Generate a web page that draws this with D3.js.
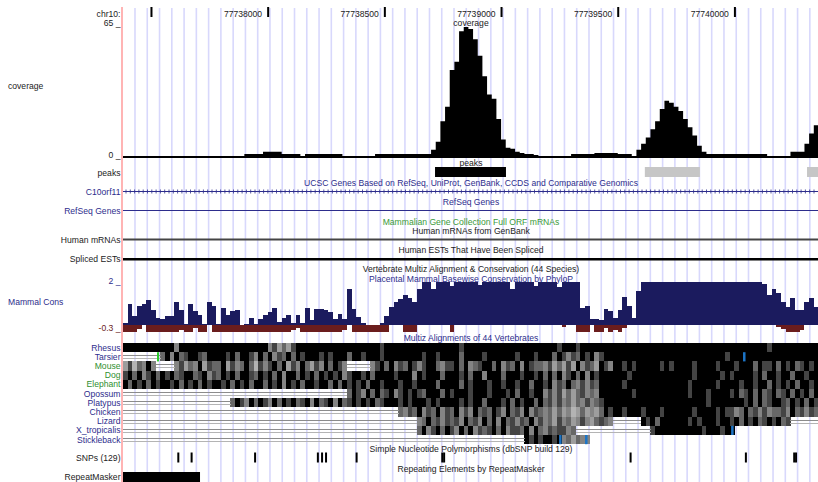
<!DOCTYPE html>
<html>
<head>
<meta charset="utf-8">
<script src="https://cdn.jsdelivr.net/npm/d3@7"></script>
<style>
  html, body { margin: 0; padding: 0; background: #fff; }
  svg { display: block; }
  text { font-family: 'Liberation Sans', Arial, Helvetica, sans-serif; font-size: 8.6px; }
</style>
</head>
<body>
<div id="chart"></div>
<script>
/* ---- data ---- */
const chrom = 'chr10:';
const viewStart = 77737378;
const viewEnd = 77740356;
const binSize = 20;

const rulerTicks = [77737500, 77738000, 77738500, 77739000, 77739500, 77740000];
const rulerLabels = ['', '77738000', '77738500', '77739000', '77739500', '77740000'];

// read coverage, one value per 20 bp bin
const coverage = [
  1, 1, 1, 1, 1, 1, 1, 1, 1, 1,
  1, 1, 1, 1, 1, 1, 1, 1, 1, 1,
  1, 1, 1, 1, 1, 1, 2, 2, 2, 2,
  3, 3, 3, 3, 2, 2, 2, 2, 1, 2,
  2, 2, 2, 2, 2, 2, 2, 1, 1, 1,
  1, 1, 1, 1, 2, 2, 2, 2, 2, 2,
  2, 2, 2, 2, 2, 2, 4, 8, 18, 25,
  43, 47, 62, 64, 63, 58, 50, 40, 31, 29,
  19, 9, 5, 4.5, 3, 2.5, 2, 2, 1.5, 1,
  1, 1, 1, 1, 1, 1, 2, 2, 2, 2,
  2, 2.5, 2.5, 2.5, 2.5, 2.5, 2, 2, 2, 1,
  4, 7, 10, 14, 18, 24, 28, 27, 25, 23,
  19, 15, 11, 6, 3, 2, 2, 2, 2, 2,
  2, 2, 2, 2, 2, 2, 2, 2, 1, 1,
  1, 1, 1, 3, 3, 3, 7, 12, 16
];
const coverageMax = 65;

const peakStarts = [77738715, 77739614, 77740309];
const peakEnds = [77739019, 77739850, 77740400];
const peakScores = [1000, 250, 250];

// PhyloP, highest and lowest score in each 20 bp bin
const consHi = [
  0.1, 1.0, 0.45, 0.9, 1.0, 1.15, 0.7, 0.35, 0.3, 0.45,
  0.45, 1.1, 0.7, 0.05, 1.0, 0.65, 0.5, 0.05, 1.1, 0.9,
  0.05, 0.8, 0.5, 0.65, 0.7, 0, 0.05, 0.35, 0.08, 0.3,
  0.5, 0.6, 0.8, 0.15, 0.35, 0.5, 0.1, 0.5, 0.1, 0.8,
  0.25, 0.75, 0.75, 0.7, 0.6, 0.3, 0.55, 0.3, 1.7, 0.75,
  0.4, 0.1, 0, 0, 0, 0.1, 0.45, 0.85, 1.1, 1.2,
  1.4, 1.25, 1.1, 1.7, 2, 2, 1.7, 2, 2, 2,
  1.8, 2, 2, 2, 2, 2, 1.85, 2, 2, 2,
  2, 2, 2, 1.7, 2, 2, 2, 2, 1.8, 2,
  2, 2, 2, 1.75, 2, 2, 2, 2, 0.8, 0.9,
  0.3, 0.3, 0.25, 0.75, 0.65, 0.35, 0.7, 1.3, 0.9, 0.35,
  1.6, 2, 2, 2, 2, 2, 2, 2, 2, 2,
  2, 2, 2, 2, 2, 2, 2, 2, 2, 2,
  2, 2, 2, 2, 2, 2, 2, 1.9, 1.4, 1.7,
  1.5, 1.1, 0.85, 1.25, 0.7, 0.7, 1.1, 1.25, 0.85
];
const consLo = [
  -0.3, -0.3, -0.3, -0.15, 0, -0.3, -0.3, -0.3, -0.3, -0.3,
  -0.3, -0.3, -0.2, -0.3, -0.3, -0.1, -0.3, -0.3, 0, -0.3,
  -0.3, -0.3, -0.3, -0.3, -0.3, -0.3, -0.3, -0.3, -0.3, -0.3,
  -0.3, -0.3, -0.3, -0.3, -0.3, -0.3, -0.2, -0.1, -0.3, -0.3,
  -0.3, -0.3, -0.3, -0.3, -0.3, -0.3, -0.3, -0.2, 0, -0.3,
  -0.3, -0.3, -0.3, -0.3, -0.3, -0.3, -0.3, 0, 0, 0,
  -0.3, -0.3, -0.3, 0, 0, 0, 0, 0, 0, 0,
  -0.3, 0, 0, 0, 0, 0, 0, 0, 0, 0,
  0, 0, 0, 0, 0, 0, 0, 0, 0, 0,
  0, 0, 0, 0, -0.05, 0, 0, -0.3, -0.3, -0.3,
  0, -0.3, -0.3, -0.1, -0.3, -0.2, -0.3, -0.1, 0, 0,
  0, 0, 0, 0, 0, 0, 0, 0, 0, 0,
  0, 0, 0, 0, 0, 0, 0, 0, 0, 0,
  0, 0, 0, 0, 0, 0, 0, 0, 0, 0,
  -0.05, -0.15, -0.3, -0.3, -0.3, -0.2, 0, 0, 0
];

// multiz rows: one char per 20 bp bin, '-' unaligned, '.' nothing, 0-9 shade
const species = ['Rhesus', 'Tarsier', 'Mouse', 'Dog', 'Elephant', 'Opossum', 'Platypus', 'Chicken', 'Lizard', 'X_tropicalis', 'Stickleback'];
const speciesGroup = [0, 0, 1, 1, 1, 0, 0, 0, 0, 0, 0];
const alignRhesus = ['9999999999', '9699999999', '9999999999', '9685758999', '9999999999', '9999989999', '9999999999', '9989999999', '9999999999', '9998999899', '9999999999', '9999999999', '9999999999', '9999999989', '999999999'];
const alignTarsier = ['--------79', '6978998799', '9989799869', '7968797989', '9989899979', '9899989999', '9999899899', '9979999899', '9999899989', '9979868798', '9689999999', '9999999999', '9999999998', '9999999999', '999999999'];
const alignMouse = ['5847696---', '-685769587', '7958679748', '6897958697', '58697986--', '---6897968', '7986899768', '8979678997', '9687969877', '6857585968', '7598699898', '9999989899', '9989999899', '9899979889', '798978989'];
const alignDog = ['8979689798', '9789978968', '7989799879', '8979699798', '9798989689', '9897999989', '9969899979', '9989799699', '9799989989', '7979689796', '9899999989', '9999999999', '9989999989', '8999989799', '899799899'];
const alignElephant = ['9798979899', '8979897989', '9897989799', '7989698979', '9899797989', '8979989998', '9989999799', '9979899989', '9899899799', '8968797686', '8799999899', '9999999999', '9899999899', '9989989979', '898979989'];
const alignOpossum = ['----------', '----------', '----------', '----------', '--------79', '8697978968', '9898799979', '8999899989', '9989799899', '6868575786', '7699999998', '9999999999', '9899989999', '8978979789', '789798979'];
const alignPlatypus = ['----------', '----------', '---7986979', '8697989789', '6978969789', '8989789998', '9899989899', '9989899799', '9897989979', '7868675768', '6789999999', '9999999999', '9999989999', '9998979789', '987989798'];
const alignChicken = ['----------', '----------', '----------', '----------', '----------', '---------7', '6879687968', '7968697879', '8697869687', '6757564575', '6579899899', '9899989999', '9989999898', '8679786867', '786978687'];
const alignLizard = ['----------', '----------', '----------', '----------', '----------', '----------', '---6797868', '7869786979', '6978687968', '6758675686', '57876-----', '-989799999', '9898999899', '8979897898', '978------'];
const alignXtrop = ['----------', '----------', '----------', '----------', '----------', '----------', '---7968979', '8697968789', '7968879697', '6878867---', '----------', '---8999999', '9999899989', '9.........', '.........'];
const alignStickleback = ['----------', '----------', '----------', '----------', '----------', '----------', '----------', '----------', '------9898', '9989675766', '..........', '..........', '..........', '..........', '.........'];
const alignments = [alignRhesus, alignTarsier, alignMouse, alignDog, alignElephant, alignOpossum, alignPlatypus, alignChicken, alignLizard, alignXtrop, alignStickleback];

const insertSpecies = ['Tarsier', 'Tarsier', 'X_tropicalis', 'Stickleback', 'Stickleback'];
const insertPos = [77737528, 77740039, 77739988, 77739251, 77739362];
const insertKind = ['double', 'single', 'single', 'single', 'single'];

const snpPos = [77737615, 77737672, 77737944, 77738213, 77738231, 77738248, 77738379, 77738746, 77738754, 77739553, 77740047, 77740254, 77740262];

const repeatStarts = [77737300];
const repeatEnds = [77737708];

/* ---- layout ---- */
const W = 818, H = 482;
const plotLeft = 123, plotRight = 818;
const labelRight = 120.5;
const centerX = 471;
const navy = '#2d2d8c';
const green = '#2f8f2f';
const textColor = '#222';
const consBlue = '#1b1b5e';
const consBrown = '#6b1d1d';
const insertBlue = '#1c74c6';

const x = d3.scaleLinear().domain([viewStart, viewEnd]).range([plotLeft, plotRight]);
const yCov = d3.scaleLinear().domain([0, coverageMax]).range([158, 25]);
const yCons = d3.scaleLinear().domain([-0.3, 2]).range([332, 282]);
// identity shade: higher digit = darker, mid digits kept light for contrast
const grey = d3.scalePow().exponent(0.6).domain([0, 9]).range([0, 1]);
const shade = (d) => Math.round(255 * grey(9 - d));
const peakGrey = d3.scaleThreshold().domain([500]).range(['#c6c6c6', '#000']);

const binStart = (i) => viewStart + i * binSize;

const svg = d3.select('#chart')
  .append('svg')
  .attr('width', W)
  .attr('height', H)
  .attr('viewBox', `0 0 ${W} ${H}`)
  .style('background', '#fff');

/* Guidelines */
const guideX = d3.range(135, plotRight, 12.27);
svg.append('g')
  .selectAll('line')
  .data(guideX)
  .join('line')
  .attr('x1', (d) => d)
  .attr('x2', (d) => d)
  .attr('y1', 8)
  .attr('y2', H)
  .attr('stroke', '#d8d8fc')
  .attr('stroke-width', 1.6);

/* Ruler */
svg.append('text')
  .attr('x', labelRight)
  .attr('y', 17)
  .attr('text-anchor', 'end')
  .attr('fill', textColor)
  .text(chrom);

svg.append('g')
  .selectAll('rect')
  .data(rulerTicks)
  .join('rect')
  .attr('x', (d) => x(d) - 1)
  .attr('y', 7)
  .attr('width', 2)
  .attr('height', 10)
  .attr('fill', '#000');

svg.append('g')
  .selectAll('text')
  .data(rulerTicks)
  .join('text')
  .attr('x', (d) => x(d) - 6)
  .attr('y', 17)
  .attr('text-anchor', 'end')
  .attr('fill', textColor)
  .text((d, i) => rulerLabels[i]);

/* Centre track titles (drawn before the data so bars cover them) */
const centerLabels = [
  ['coverage', 26, textColor],
  ['peaks', 166, textColor],
  ['UCSC Genes Based on RefSeq, UniProt, GenBank, CCDS and Comparative Genomics', 186, navy],
  ['RefSeq Genes', 205, navy],
  ['Mammalian Gene Collection Full ORF mRNAs', 225, '#3a9a3a'],
  ['Human mRNAs from GenBank', 234, textColor],
  ['Human ESTs That Have Been Spliced', 253, textColor],
  ['Vertebrate Multiz Alignment & Conservation (44 Species)', 272, textColor],
  ['Placental Mammal Basewise Conservation by PhyloP', 282, navy],
  ['Multiz Alignments of 44 Vertebrates', 341, navy],
  ['Simple Nucleotide Polymorphisms (dbSNP build 129)', 452, textColor],
  ['Repeating Elements by RepeatMasker', 472, textColor],
];
svg.append('g')
  .selectAll('text')
  .data(centerLabels)
  .join('text')
  .attr('x', centerX)
  .attr('y', (d) => d[1])
  .attr('text-anchor', 'middle')
  .attr('fill', (d) => d[2])
  .text((d) => d[0]);

/* Left side labels */
const leftLabels = [
  ['65 _', 26, textColor],
  ['0 _', 158, textColor],
  ['peaks', 176, textColor],
  ['C10orf11', 195, navy],
  ['RefSeq Genes', 214, navy],
  ['Human mRNAs', 243, textColor],
  ['Spliced ESTs', 262, textColor],
  ['2 _', 284, navy],
  ['-0.3 _', 331, consBrown],
  ['SNPs (129)', 461, textColor],
  ['RepeatMasker', 480, textColor],
];
svg.append('g')
  .selectAll('text')
  .data(leftLabels)
  .join('text')
  .attr('x', labelRight)
  .attr('y', (d) => d[1])
  .attr('text-anchor', 'end')
  .attr('fill', (d) => d[2])
  .text((d) => d[0]);

svg.append('text').attr('x', 8).attr('y', 89).attr('fill', textColor).text('coverage');
svg.append('text').attr('x', 8).attr('y', 305).attr('fill', navy).text('Mammal Cons');

/* Coverage */
const covPoints = coverage.map((v, i) => [binStart(i), v]);
covPoints.push([binStart(coverage.length), coverage[coverage.length - 1]]);
const covArea = d3.area()
  .curve(d3.curveStepAfter)
  .x((d) => x(d[0]))
  .y0(yCov(0))
  .y1((d) => yCov(d[1]));
svg.append('path')
  .datum(covPoints)
  .attr('d', covArea)
  .attr('fill', '#000');

/* Peaks */
svg.append('g')
  .selectAll('rect')
  .data(peakStarts)
  .join('rect')
  .attr('x', (d) => x(d))
  .attr('y', 167)
  .attr('width', (d, i) => Math.min(x(peakEnds[i]), plotRight) - x(d))
  .attr('height', 10)
  .attr('fill', (d, i) => peakGrey(peakScores[i]));

/* Gene / mRNA lines */
svg.append('line')
  .attr('x1', plotLeft).attr('x2', plotRight)
  .attr('y1', 191.5).attr('y2', 191.5)
  .attr('stroke', navy).attr('stroke-width', 1);
svg.append('g')
  .selectAll('line')
  .data(d3.range(plotLeft + 3, plotRight, 4.3))
  .join('line')
  .attr('x1', (d) => d).attr('x2', (d) => d)
  .attr('y1', 189.5).attr('y2', 193.5)
  .attr('stroke', navy).attr('stroke-width', 0.8);
svg.append('line')
  .attr('x1', plotLeft).attr('x2', plotRight)
  .attr('y1', 210.5).attr('y2', 210.5)
  .attr('stroke', navy).attr('stroke-width', 1);
svg.append('rect')
  .attr('x', plotLeft).attr('y', 238.5)
  .attr('width', plotRight - plotLeft).attr('height', 2)
  .attr('fill', '#444');
svg.append('rect')
  .attr('x', plotLeft).attr('y', 258)
  .attr('width', plotRight - plotLeft).attr('height', 2.5)
  .attr('fill', '#000');

/* Mammal conservation */
const consG = svg.append('g').attr('shape-rendering', 'crispEdges');
consG.selectAll('rect.hi')
  .data(consHi)
  .join('rect')
  .attr('class', 'hi')
  .attr('x', (d, i) => x(binStart(i)))
  .attr('width', x(binStart(1)) - x(binStart(0)))
  .attr('y', (d) => yCons(Math.min(d, 2)))
  .attr('height', (d) => yCons(0) - yCons(Math.min(d, 2)))
  .attr('fill', consBlue);
consG.selectAll('rect.lo')
  .data(consLo)
  .join('rect')
  .attr('class', 'lo')
  .attr('x', (d, i) => x(binStart(i)))
  .attr('width', x(binStart(1)) - x(binStart(0)))
  .attr('y', yCons(0))
  .attr('height', (d) => yCons(Math.max(d, -0.3)) - yCons(0))
  .attr('fill', consBrown);

/* Multiz rows */
const rowTop = (k) => 343 + k * 9.2;
const rowH = 9.2;
const binW = x(binStart(1)) - x(binStart(0));

species.forEach((name, k) => {
  const row = alignments[k].join('');
  const g = svg.append('g').attr('shape-rendering', 'crispEdges');
  const cells = row.split('').map((c, i) => ({ c, i }));

  g.selectAll('rect')
    .data(cells.filter((d) => d.c >= '0' && d.c <= '9'))
    .join('rect')
    .attr('x', (d) => x(binStart(d.i)))
    .attr('y', rowTop(k))
    .attr('width', binW + 0.3)
    .attr('height', rowH)
    .attr('fill', (d) => {
      const v = shade(+d.c);
      return `rgb(${v},${v},${v})`;
    });

  const gaps = cells.filter((d) => d.c === '-');
  [[3, '#8c8c8c'], [6, '#b4b4b4']].forEach(([dy, col]) => {
    g.selectAll(null)
      .data(gaps)
      .join('rect')
      .attr('x', (d) => x(binStart(d.i)))
      .attr('y', rowTop(k) + dy)
      .attr('width', binW + 0.3)
      .attr('height', 1)
      .attr('fill', col);
  });

  svg.append('text')
    .attr('x', labelRight)
    .attr('y', rowTop(k) + 7.6)
    .attr('text-anchor', 'end')
    .attr('fill', speciesGroup[k] ? green : navy)
    .text(name);
});

svg.append('g')
  .selectAll('rect')
  .data(insertPos)
  .join('rect')
  .attr('x', (d) => x(d) - 1)
  .attr('y', (d, i) => rowTop(species.indexOf(insertSpecies[i])))
  .attr('width', (d, i) => (insertKind[i] === 'double' ? 2 : 2.5))
  .attr('height', rowH)
  .attr('fill', (d, i) => (insertKind[i] === 'double' ? '#2ccc2c' : insertBlue));

/* SNPs */
svg.append('g')
  .selectAll('rect')
  .data(snpPos)
  .join('rect')
  .attr('x', (d) => x(d) - 1)
  .attr('y', 452.5)
  .attr('width', 2)
  .attr('height', 10)
  .attr('fill', '#000');

/* RepeatMasker */
svg.append('g')
  .selectAll('rect')
  .data(repeatStarts)
  .join('rect')
  .attr('x', (d) => Math.max(x(d), plotLeft))
  .attr('y', 472)
  .attr('width', (d, i) => x(repeatEnds[i]) - Math.max(x(d), plotLeft))
  .attr('height', 10)
  .attr('fill', '#000');

/* Pink left border of the image area */
svg.append('rect')
  .attr('x', 121)
  .attr('y', 7)
  .attr('width', 2)
  .attr('height', H - 7)
  .attr('fill', '#ffb4b4');
</script>
</body>
</html>
